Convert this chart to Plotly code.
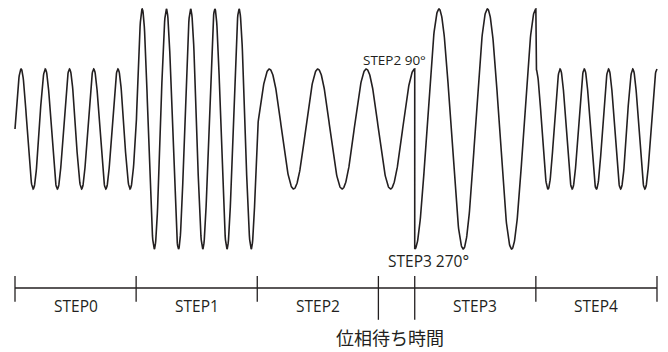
import numpy as np
import plotly.graph_objects as go

# ---- data ----
step_labels = ["STEP0", "STEP1", "STEP2", "STEP3", "STEP4"]
step_starts = [0, 5, 10, 16.5, 21.5]
step_ends = [5, 10, 15, 21.5, 26.5]
timeline_ticks = [0, 5, 10, 15, 16.5, 21.5, 26.5]
long_ticks = [15, 16.5]
wait_label = "位相待ち時間"
wait_span = [15, 16.5]

# waveform segments (time in units of the fast period)
seg_start = [0, 5, 10, 16.5, 21.5]
seg_end = [5, 10, 16.5, 21.5, 26.5]
seg_amplitude = [1, 2, 1, 2, 1]
seg_cycles_per_unit = [1, 1, 0.5, 0.5, 1]
seg_start_phase_deg = [0, 0, 0, 270, 90]

marker_texts = ["STEP2 90°", "STEP3 270°"]

INK = "#231f20"
FONT = "Open Sans"

# build waveform
xs, ys = [], []
for s, e, a, f, p in zip(seg_start, seg_end, seg_amplitude, seg_cycles_per_unit, seg_start_phase_deg):
    t = np.linspace(s, e, int((e - s) * 80) + 1)
    xs.extend(t.tolist())
    ys.extend((a * np.sin(2 * np.pi * f * (t - s) + np.deg2rad(p))).tolist())

fig = go.Figure()
fig.add_trace(go.Scatter(x=xs, y=ys, mode="lines",
                         line=dict(color=INK, width=1.6), hoverinfo="skip"))

# timeline
line_y = -2.65
fig.add_trace(go.Scatter(x=[timeline_ticks[0], timeline_ticks[-1]], y=[line_y, line_y],
                         mode="lines", line=dict(color=INK, width=1.3), hoverinfo="skip"))
tx, ty = [], []
for tk in timeline_ticks:
    bottom = -3.18 if tk in long_ticks else -2.88
    tx += [tk, tk, None]
    ty += [-2.45, bottom, None]
fig.add_trace(go.Scatter(x=tx, y=ty, mode="lines",
                         line=dict(color=INK, width=1.3), hoverinfo="skip"))

annotations = []
for lab, s, e in zip(step_labels, step_starts, step_ends):
    annotations.append(dict(x=(s + e) / 2, y=-2.95, text=lab, showarrow=False,
                            font=dict(family=FONT, size=15.5, color=INK),
                            xanchor="center", yanchor="middle"))
annotations.append(dict(x=sum(wait_span) / 2, y=-3.46, text=wait_label, showarrow=False,
                        xshift=-6.5,
                        font=dict(family="Noto Sans CJK JP", size=18, color=INK),
                        xanchor="center", yanchor="middle"))
annotations.append(dict(x=16.5, y=1.15, text=marker_texts[0], showarrow=False,
                        xshift=-20,
                        font=dict(family=FONT, size=13.5, color=INK),
                        xanchor="center", yanchor="middle"))
annotations.append(dict(x=16.5, y=-2.2, text=marker_texts[1], showarrow=False,
                        xshift=14,
                        font=dict(family=FONT, size=15.5, color=INK),
                        xanchor="center", yanchor="middle"))

# page body has an 8px margin, so the figure is drawn 8px right/down
OFF = 8
W, H = 668 - OFF, 352 - OFF
PX_PER_UNIT = 24.226
X0 = 15 - OFF
YC = 129 - OFF
AMP_PX = 60

fig.update_layout(
    width=W, height=H,
    margin=dict(l=0, r=0, t=0, b=0),
    paper_bgcolor="white", plot_bgcolor="white",
    showlegend=False,
    annotations=annotations,
    xaxis=dict(range=[-X0 / PX_PER_UNIT, (W - X0) / PX_PER_UNIT], visible=False, fixedrange=True),
    yaxis=dict(range=[-(H - YC) / AMP_PX, YC / AMP_PX], visible=False, fixedrange=True),
)

fig.write_html("out.html")
